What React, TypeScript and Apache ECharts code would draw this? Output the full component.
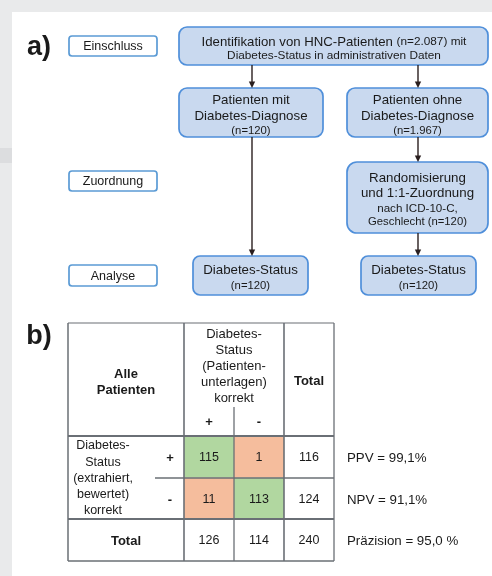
import React, { useEffect, useRef } from "react";
import * as echarts from "echarts";

// ---- data ----
const stageNames = ["Einschluss", "Zuordnung", "Analyse"];
const cohortTotal = 2087;
const withDiabetes = 120;
const withoutDiabetes = 1967;
const matchedControls = 120;

// 2x2 validation table: rows = extracted status (+ / -), cols = record status (+ / -)
const signs = ["+", "-"];
const counts = [
  [115, 1],
  [11, 113],
];

const FONT = '"Liberation Sans", Arial, Helvetica, sans-serif';
const INK = "#1a1a1a";
const BOX_FILL = "#c9d9ef";
const BOX_STROKE = "#4f8fda";
const GREEN = "#b1d7a0";
const ORANGE = "#f5bd9d";
const GRID_LINE = "#6a6f75";

const de = (n: number) => String(n).replace(/\B(?=(\d{3})+(?!\d))/g, ".");
const pct = (v: number) => (v * 100).toFixed(1).replace(".", ",");

function txt(text: string, x: number, y: number, size: number, bold = false, align = "center") {
  return {
    type: "text",
    silent: true,
    style: {
      text,
      x,
      y,
      font: `${bold ? "bold " : ""}${size}px ${FONT}`,
      fill: INK,
      align,
      verticalAlign: "middle",
      textAlign: align,
      textVerticalAlign: "middle",
    },
  };
}

function box(x: number, y: number, w: number, h: number, fill: string, stroke: string, r: number) {
  return {
    type: "rect",
    silent: true,
    shape: { x, y, width: w, height: h, r },
    style: { fill, stroke, lineWidth: 1.7 },
  };
}

function arrow(x: number, y1: number, y2: number) {
  return [
    {
      type: "line",
      silent: true,
      shape: { x1: x, y1, x2: x, y2: y2 - 4 },
      style: { stroke: "#2a1f1f", lineWidth: 1.4 },
    },
    {
      type: "polygon",
      silent: true,
      shape: { points: [[x - 3.2, y2 - 6.5], [x + 3.2, y2 - 6.5], [x, y2]] },
      style: { fill: "#2a1f1f" },
    },
  ];
}

function hline(x1: number, x2: number, y: number, w = 1.2) {
  return { type: "line", silent: true, shape: { x1, y1: y, x2, y2: y }, style: { stroke: GRID_LINE, lineWidth: w } };
}
function vline(x: number, y1: number, y2: number, w = 1.2) {
  return { type: "line", silent: true, shape: { x1: x, y1, x2: x, y2 }, style: { stroke: GRID_LINE, lineWidth: w } };
}

export default function App() {
  const ref = useRef<HTMLDivElement>(null);

  useEffect(() => {
    if (!ref.current) return;
    const chart = echarts.init(ref.current, null, { renderer: "svg" });

    const rowTotals = counts.map((r) => r[0] + r[1]);
    const colTotals = [counts[0][0] + counts[1][0], counts[0][1] + counts[1][1]];
    const grand = rowTotals[0] + rowTotals[1];
    const ppv = counts[0][0] / rowTotals[0];
    const npv = counts[1][1] / rowTotals[1];
    const acc = (counts[0][0] + counts[1][1]) / grand;
    const metrics = [`PPV = ${pct(ppv)}%`, `NPV = ${pct(npv)}%`, `Präzision = ${pct(acc)} %`];

    // cell table for the value grid: [col, row, value, fill]
    const cols = ["+", "-", "Total"];
    const rows = ["+", "-", "Total"];
    const cells: any[] = [];
    for (let r = 0; r < 2; r++) {
      for (let c = 0; c < 2; c++) {
        cells.push([c, r, counts[r][c], r === c ? GREEN : ORANGE]);
      }
      cells.push([2, r, rowTotals[r], "#ffffff"]);
    }
    cells.push([0, 2, colTotals[0], "#ffffff"]);
    cells.push([1, 2, colTotals[1], "#ffffff"]);
    cells.push([2, 2, grand, "#ffffff"]);

    // table frame
    const tL = 68, c1 = 184, c2 = 234, c3 = 284, tR = 334;
    const r0 = 323, r1 = 436, r2 = 478, r3 = 519, r4 = 561;

    const graphics: any[] = [
      { type: "rect", silent: true, z: -10, shape: { x: 0, y: 0, width: 492, height: 576 }, style: { fill: "#e9eaeb" } },
      { type: "rect", silent: true, z: -10, shape: { x: 0, y: 148, width: 12, height: 15 }, style: { fill: "#dcdddf" } },
      { type: "rect", silent: true, z: -9, shape: { x: 12, y: 12, width: 480, height: 564 }, style: { fill: "#ffffff" } },

      txt("a)", 39, 46, 27, true),
      txt("b)", 39, 335, 27, true),

      // stage labels
      box(69, 36, 88, 20, "#ffffff", "#5b9bd5", 3),
      box(69, 171, 88, 20, "#ffffff", "#5b9bd5", 3),
      box(69, 265, 88, 21, "#ffffff", "#5b9bd5", 3),
      txt(stageNames[0], 113, 46, 12.5),
      txt(stageNames[1], 113, 181, 12.5),
      txt(stageNames[2], 113, 275.5, 12.5),

      // flow boxes
      box(179, 27, 309, 38, BOX_FILL, BOX_STROKE, 8),
      box(179, 88, 144, 49, BOX_FILL, BOX_STROKE, 8),
      box(347, 88, 141, 49, BOX_FILL, BOX_STROKE, 8),
      box(347, 162, 141, 71, BOX_FILL, BOX_STROKE, 10),
      box(193, 256, 115, 39, BOX_FILL, BOX_STROKE, 7),
      box(361, 256, 115, 39, BOX_FILL, BOX_STROKE, 7),

      {
        type: "text",
        silent: true,
        style: {
          text: `{m|Identifikation von HNC-Patienten} {s|(n=${de(cohortTotal)}) mit}`,
          x: 334,
          y: 41,
          align: "center",
          verticalAlign: "middle",
          textAlign: "center",
          textVerticalAlign: "middle",
          fill: INK,
          font: `13px ${FONT}`,
          rich: {
            m: { font: `13.2px ${FONT}`, fill: INK },
            s: { font: `11.8px ${FONT}`, fill: INK },
          },
        },
      },
      txt("Diabetes-Status in administrativen Daten", 334, 55, 11.8),

      txt("Patienten mit", 251, 99, 13.3),
      txt("Diabetes-Diagnose", 251, 115, 13.3),
      txt(`(n=${de(withDiabetes)})`, 251, 130, 11.3),

      txt("Patienten ohne", 417.5, 99, 13.3),
      txt("Diabetes-Diagnose", 417.5, 115, 13.3),
      txt(`(n=${de(withoutDiabetes)})`, 417.5, 130, 11.3),

      txt("Randomisierung", 417.5, 177, 13.3),
      txt("und 1:1-Zuordnung", 417.5, 192, 13.3),
      txt("nach ICD-10-C,", 417.5, 207, 11.6),
      txt(`Geschlecht (n=${de(matchedControls)})`, 417.5, 221, 11.3),

      txt("Diabetes-Status", 250.5, 269, 13.3),
      txt(`(n=${de(withDiabetes)})`, 250.5, 285, 11.3),
      txt("Diabetes-Status", 418.5, 269, 13.3),
      txt(`(n=${de(matchedControls)})`, 418.5, 285, 11.3),

      ...arrow(252, 65, 88),
      ...arrow(418, 65, 88),
      ...arrow(252, 137, 256),
      ...arrow(418, 137, 162),
      ...arrow(418, 233, 256),

      // table header
      txt("Alle", 126, 373, 13, true),
      txt("Patienten", 126, 389, 13, true),
      txt("Diabetes-", 234, 333, 13),
      txt("Status", 234, 349, 13),
      txt("(Patienten-", 234, 365, 13),
      txt("unterlagen)", 234, 381, 13),
      txt("korrekt", 234, 397, 13),
      txt(signs[0], 209, 421, 13, true),
      txt(signs[1], 259, 421, 13, true),
      txt("Total", 309, 380, 13, true),

      // row header
      txt("Diabetes-", 103, 445, 12.5),
      txt("Status", 103, 462, 12.5),
      txt("(extrahiert,", 103, 478, 12.5),
      txt("bewertet)", 103, 494, 12.5),
      txt("korrekt", 103, 510, 12.5),
      txt(signs[0], 170, 457, 13, true),
      txt(signs[1], 170, 499, 13, true),
      txt("Total", 126, 540, 13, true),

      // metrics
      txt(metrics[0], 347, 457, 13.3, false, "left"),
      txt(metrics[1], 347, 499, 13.3, false, "left"),
      txt(metrics[2], 347, 540, 13.3, false, "left"),

      // table grid lines
      { ...hline(tL, tR, r0), z: 20 },
      { ...hline(tL, tR, r1, 2.2), z: 20 },
      { ...hline(155, tR, r2, 1.4), z: 20 },
      { ...hline(tL, tR, r3, 2), z: 20 },
      { ...hline(tL, tR, r4, 1.6), z: 20 },
      { ...vline(tL, r0, r4, 1.5), z: 20 },
      { ...vline(c1, r0, r4, 1.6), z: 20 },
      { ...vline(c2, 407, r4, 1.3), z: 20 },
      { ...vline(c3, r0, r4, 1.6), z: 20 },
      { ...vline(tR, r0, r4, 1.3), z: 20 },
    ];

    chart.setOption({
      animation: false,
      grid: { left: c1, top: r1, width: tR - c1, height: r4 - r1, containLabel: false },
      xAxis: { type: "category", data: cols, show: false },
      yAxis: { type: "category", data: rows, inverse: true, show: false },
      series: [
        {
          type: "custom",
          silent: true,
          z: 5,
          data: cells,
          renderItem: (params: any, api: any) => {
            const c = api.coord([api.value(0), api.value(1)]);
            const s = api.size([1, 1]);
            const fill = cells[params.dataIndex][3];
            return {
              type: "group",
              children: [
                {
                  type: "rect",
                  shape: { x: c[0] - s[0] / 2, y: c[1] - s[1] / 2, width: s[0], height: s[1] },
                  style: { fill },
                },
                {
                  type: "text",
                  style: {
                    text: String(api.value(2)),
                    x: c[0],
                    y: c[1],
                    align: "center",
                    verticalAlign: "middle",
                    textAlign: "center",
                    textVerticalAlign: "middle",
                    font: `12.5px ${FONT}`,
                    fill: INK,
                  },
                },
              ],
            };
          },
        },
      ],
      graphic: { elements: graphics },
    });

    return () => chart.dispose();
  }, []);

  return (
    <div
      ref={ref}
      style={{ position: "fixed", left: 0, top: 0, width: 492, height: 576 }}
    />
  );
}
